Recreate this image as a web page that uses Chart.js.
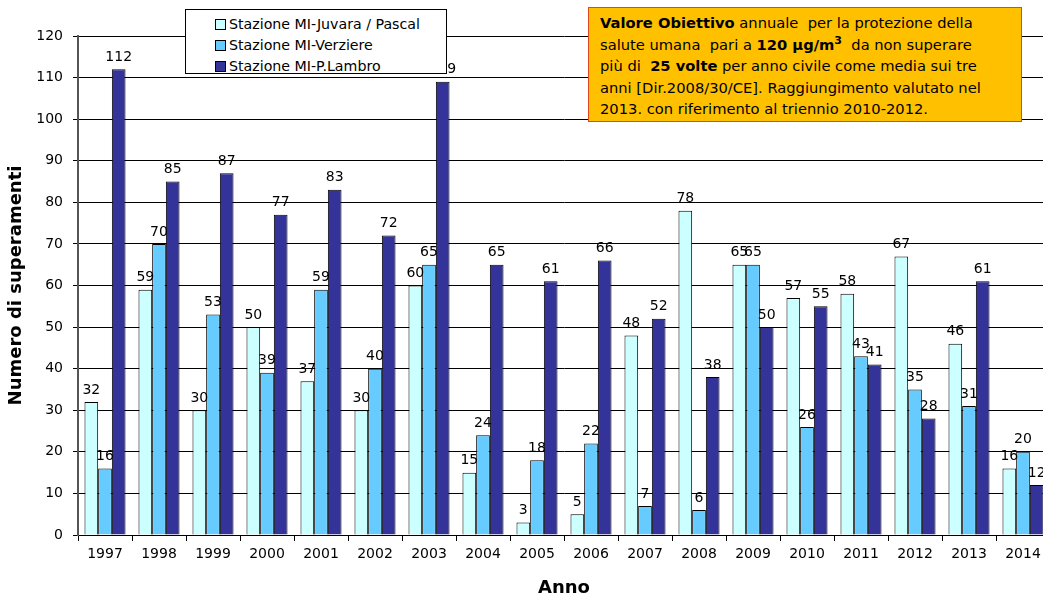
<!DOCTYPE html>
<html>
<head>
<meta charset="utf-8">
<script src="https://cdn.jsdelivr.net/npm/chart.js@4.4.1/dist/chart.umd.min.js"></script>
<style>
  html, body { margin: 0; padding: 0; background: #fff; overflow: hidden; }
  #wrap { position: relative; width: 1050px; height: 599px; }
  .ff { font-family: 'DejaVu Sans', sans-serif; }
  #legend {
    position: absolute; left: 185px; top: 9px; width: 262px; height: 65px;
    background: #fff; border: 1px solid #000; box-sizing: border-box;
    font-size: 14.2px; color: #000; padding: 4px 0 0 29px;
  }
  #legend .row { height: 21px; line-height: 21px; white-space: nowrap; }
  #legend .sw { display: inline-block; width: 9px; height: 9px; border: 1px solid #000; margin-right: 3px; vertical-align: -1px; }
  #note {
    position: absolute; left: 588px; top: 7px; width: 434px; height: 115px;
    background: #ffc000; border: 1px solid #e0481a; box-sizing: border-box;
    font-size: 14.7px; line-height: 21.6px; color: #000; padding: 4px 0 0 11px;
    white-space: nowrap;
  }
  #note sup { font-size: 11px; line-height: 0; }
</style>
</head>
<body>
<div id="wrap">
  <canvas id="myChart" width="1050" height="599"></canvas>
  <div id="legend" class="ff"></div>
  <div id="note" class="ff">
    <b>Valore Obiettivo</b> annuale &nbsp;per la protezione della<br>
    salute umana &nbsp;pari a <b>120 &mu;g/m<sup>3</sup></b> &nbsp;da non superare<br>
    più di &nbsp;<b>25 volte</b> per anno civile come media sui tre<br>
    anni [Dir.2008/30/CE]. Raggiungimento valutato nel<br>
    2013. con riferimento al triennio 2010-2012.
  </div>
</div>
<script>
const FONT = "'DejaVu Sans', sans-serif";

let years = ['1997', '1998', '1999', '2000', '2001', '2002', '2003', '2004', '2005',
             '2006', '2007', '2008', '2009', '2010', '2011', '2012', '2013', '2014'];

let seriesNames = ['Stazione MI-Juvara / Pascal', 'Stazione MI-Verziere', 'Stazione MI-P.Lambro'];
let seriesColors = ['#ccffff', '#66ccff', '#333399'];

let juvara   = [32, 59, 30, 50, 37, 30, 60, 15, 3, 5, 48, 78, 65, 57, 58, 67, 46, 16];
let verziere = [16, 70, 53, 39, 59, 40, 65, 24, 18, 22, 7, 6, 65, 26, 43, 35, 31, 20];
let lambro   = [112, 85, 87, 77, 83, 72, 109, 65, 61, 66, 52, 38, 50, 55, 41, 28, 61, 12];

let yTicks = [0, 10, 20, 30, 40, 50, 60, 70, 80, 90, 100, 110, 120];

// legend box (html)
let legendHtml = '';
seriesNames.forEach(function(name, i) {
    legendHtml += '<div class="row"><span class="sw" style="background:' + seriesColors[i] + '"></span>' + name + '</div>';
});
document.getElementById('legend').innerHTML = legendHtml;

// values above bars
const valueLabels = {
    id: 'valueLabels',
    afterDatasetsDraw(chart) {
        let ctx = chart.ctx;
        ctx.save();
        ctx.font = '14px ' + FONT;
        ctx.fillStyle = '#000';
        ctx.textAlign = 'center';
        ctx.textBaseline = 'bottom';
        chart.data.datasets.forEach(function(ds, i) {
            chart.getDatasetMeta(i).data.forEach(function(bar, j) {
                ctx.fillText(ds.data[j], bar.x, bar.y - 5);
            });
        });
        ctx.restore();
    }
};

let data = {
    labels: years,
    datasets: [
        { label: seriesNames[0], data: juvara,   backgroundColor: seriesColors[0] },
        { label: seriesNames[1], data: verziere, backgroundColor: seriesColors[1] },
        { label: seriesNames[2], data: lambro,   backgroundColor: seriesColors[2] }
    ].map(function(d) {
        d.borderColor = '#000';
        d.borderWidth = 1;
        d.barPercentage = 1;
        d.categoryPercentage = 0.76;
        return d;
    })
};

let config = {
    type: 'bar',
    data: data,
    options: {
        responsive: false,
        animation: false,
        layout: { padding: { top: 36, left: 0, right: 0, bottom: 0 } },
        plugins: {
            legend: { display: false },
            tooltip: { enabled: false }
        },
        scales: {
            x: {
                afterFit: function(scale) { scale.height = 64; },
                grid: { display: true, drawOnChartArea: false, offset: true, color: '#000', tickLength: 6 },
                border: { color: '#000', width: 1 },
                ticks: { color: '#000', font: { family: FONT, size: 14 }, padding: 5 },
                title: { display: true, text: 'Anno', color: '#000', font: { family: FONT, size: 18, weight: 'bold' }, padding: { top: 6, bottom: 0 } }
            },
            y: {
                min: 0,
                max: 120,
                afterFit: function(scale) { scale.width = 78; },
                afterBuildTicks: function(scale) { scale.ticks = yTicks.map(function(v) { return { value: v }; }); },
                grid: { color: '#000', lineWidth: 1, tickLength: 5 },
                border: { color: '#555', width: 2 },
                ticks: { color: '#000', font: { family: FONT, size: 14 }, padding: 10 },
                title: { display: true, text: 'Numero di superamenti', color: '#000', font: { family: FONT, size: 18, weight: 'bold' }, padding: { top: 6, bottom: 0 } }
            }
        }
    },
    plugins: [valueLabels]
};

let myChart = new Chart(document.getElementById('myChart'), config);
</script>
</body>
</html>
